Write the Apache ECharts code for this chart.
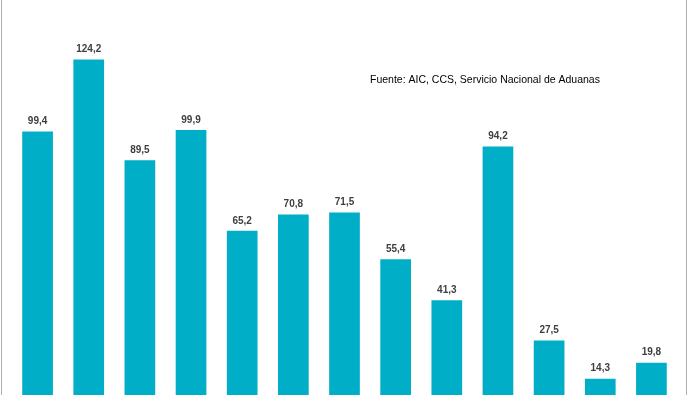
<!DOCTYPE html>
<html>
<head>
<meta charset="utf-8">
<script src="https://cdn.jsdelivr.net/npm/echarts@6/dist/echarts.min.js"></script>
<style>
html,body{margin:0;padding:0;background:#fff;}
#chart{width:690px;height:395px;}
</style>
</head>
<body>
<div id="chart"></div>
<script>
const categories = ['1','2','3','4','5','6','7','8','9','10','11','12','13'];
const values = [99.4, 124.2, 89.5, 99.9, 65.2, 70.8, 71.5, 55.4, 41.3, 94.2, 27.5, 14.3, 19.8];
const sourceText = 'Fuente: AIC, CCS, Servicio Nacional de Aduanas';

const chart = echarts.init(document.getElementById('chart'), null, {renderer: 'canvas'});
chart.setOption({
  backgroundColor: '#ffffff',
  animation: false,
  grid: {left: 12, right: 13, top: 13.5, bottom: 0, containLabel: false},
  xAxis: {
    type: 'category',
    data: categories,
    axisLine: {show: false},
    axisTick: {show: false},
    axisLabel: {show: false},
    splitLine: {show: false}
  },
  yAxis: {
    type: 'value',
    min: 8.7,
    max: 140,
    show: false,
    splitLine: {show: false}
  },
  series: [{
    type: 'bar',
    data: values,
    barCategoryGap: '40%',
    clip: false,
    itemStyle: {color: '#00AEC7'},
    label: {
      show: true,
      position: 'top',
      distance: 5,
      formatter: p => String(p.value).replace('.', ','),
      fontFamily: 'Liberation Sans, Arial, sans-serif',
      fontSize: 10,
      fontWeight: 'bold',
      color: '#404040'
    }
  }],
  graphic: [
    {type: 'text', left: 370, top: 75, style: {text: sourceText, font: '10.5px "Liberation Sans", Arial, sans-serif', fill: '#000000'}},
    {type: 'line', shape: {x1: 1.5, y1: 0, x2: 1.5, y2: 395}, style: {stroke: '#b0b0b0', lineWidth: 1}},
    {type: 'line', shape: {x1: 686.5, y1: 0, x2: 686.5, y2: 395}, style: {stroke: '#b0b0b0', lineWidth: 1}}
  ]
});
</script>
</body>
</html>
